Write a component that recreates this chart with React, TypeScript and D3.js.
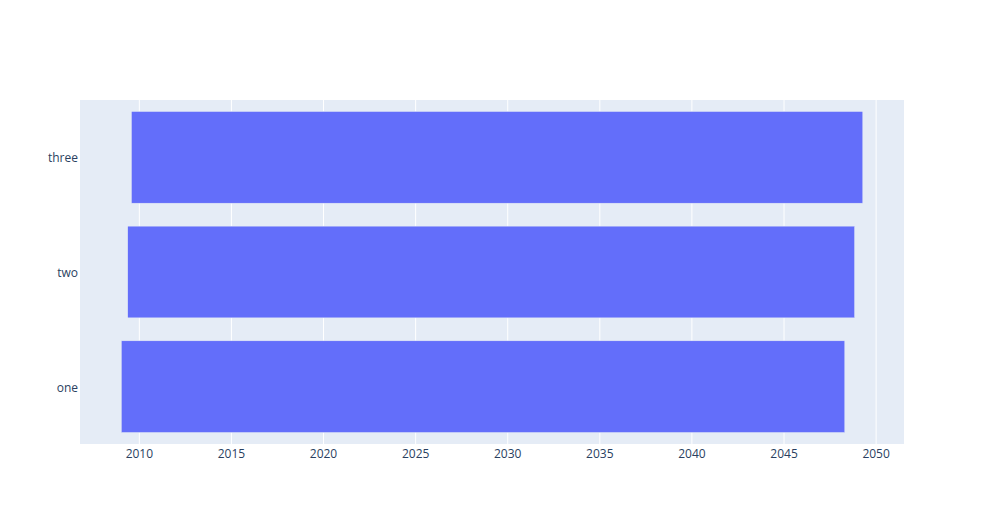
import React from "react";
import * as d3 from "d3";

const categories = ["one", "two", "three"];
const startDates = ["2009-01-08", "2009-05-15", "2009-07-27"];
const endDates = ["2048-04-20", "2048-11-01", "2049-04-12"];
const xDomain = ["2006-10-12", "2051-07-08"];
const xTickYears = [2010, 2015, 2020, 2025, 2030, 2035, 2040, 2045, 2050];

const W = 983;
const H = 525;
const M = { top: 100, right: 79, bottom: 81, left: 80 };

export default function App() {
  const x = d3
    .scaleUtc()
    .domain(xDomain.map((d) => new Date(d)))
    .range([M.left, W - M.right]);
  const y = d3
    .scaleBand()
    .domain([...categories].reverse())
    .range([M.top, H - M.bottom])
    .paddingInner(0.2)
    .paddingOuter(0.1);
  const font = "'Open Sans', verdana, arial, sans-serif";
  const ticks = xTickYears.map((yr) => new Date(Date.UTC(yr, 0, 1)));
  return (
    <svg width={W} height={H} style={{ position: "absolute", left: 0, top: 0, background: "#fff" }}>
      <rect x={M.left} y={M.top} width={W - M.left - M.right} height={H - M.top - M.bottom} fill="#E5ECF6" />
      {ticks.map((t, i) => (
        <line key={i} x1={x(t)} x2={x(t)} y1={M.top} y2={H - M.bottom} stroke="#fff" strokeWidth={1} />
      ))}
      {categories.map((c, i) => {
        const x0 = x(new Date(startDates[i]));
        const x1 = x(new Date(endDates[i]));
        return (
          <rect
            key={c}
            x={x0}
            y={y(c)}
            width={x1 - x0}
            height={y.bandwidth()}
            fill="#636efa"
            stroke="#E5ECF6"
            strokeWidth={0.5}
          />
        );
      })}
      {ticks.map((t, i) => (
        <text key={i} x={x(t)} y={458} textAnchor="middle" fontFamily={font} fontSize={12} fill="#2a3f5f">
          {xTickYears[i]}
        </text>
      ))}
      {categories.map((c) => (
        <text key={c} x={78} y={(y(c) as number) + y.bandwidth() / 2 + 5} textAnchor="end" fontFamily={font} fontSize={12} fill="#2a3f5f">
          {c}
        </text>
      ))}
    </svg>
  );
}
